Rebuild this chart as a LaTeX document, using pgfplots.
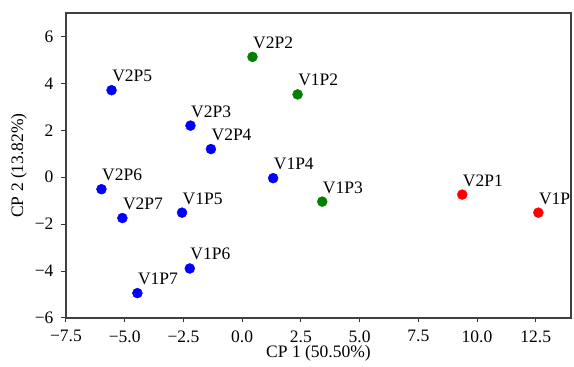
\documentclass[border=0pt]{standalone}
\usepackage{pgfplots}
\pgfplotsset{compat=1.18}
\usepackage{pgfplotstable}
\usepackage{fontspec}
\setmainfont{Liberation Serif}
\definecolor{mblue}{RGB}{0,0,255}
\definecolor{mgreen}{RGB}{0,128,0}
\definecolor{mred}{RGB}{255,0,0}
\pgfplotstableread{
x y label
-5.56 3.71 V2P5
-2.20 2.20 V2P3
-1.33 1.20 V2P4
1.32 -0.04 V1P4
-5.99 -0.51 V2P6
-5.10 -1.74 V2P7
-2.56 -1.51 V1P5
-2.23 -3.89 V1P6
-4.46 -4.94 V1P7
}\blueset
\pgfplotstableread{
x y label
0.44 5.13 V2P2
2.36 3.53 V1P2
3.41 -1.04 V1P3
}\greenset
\pgfplotstableread{
x y label
9.37 -0.74 V2P1
12.61 -1.51 V1P1
}\redset
\begin{document}
\fontsize{17.5}{20}\selectfont
\begin{tikzpicture}
\begin{axis}[
  scale only axis,
  width=505pt, height=305pt,
  at={(0,0)}, anchor=south west,
  xmin=-7.5, xmax=14.0, ymin=-6, ymax=7,
  xtick={-7.5,-5,-2.5,0,2.5,5,7.5,10,12.5},
  xticklabels={−7.5,−5.0,−2.5,0.0,2.5,5.0,7.5,10.0,12.5},
  ytick={-6,-4,-2,0,2,4,6},
  yticklabels={−6,−4,−2,0,2,4,6},
  tick align=outside,
  xtick pos=bottom, ytick pos=left,
  major tick length=4.5pt,
  tick style={black!80, line width=1pt},
  axis line style={black!75, line width=1.3pt},
  ticklabel style={font=\fontsize{17.5}{20}\selectfont},
  xticklabel style={yshift=-2pt},
  yticklabel style={xshift=-2pt},
  label style={font=\fontsize{17.5}{20}\selectfont},
  xlabel={CP 1 (50.50\%)},
  ylabel={CP 2 (13.82\%)},
  xlabel style={at={(axis description cs:0.5,-0.1311)}, anchor=base},
  ylabel style={at={(axis description cs:-0.093,0.5)}, anchor=center},
  clip mode=global,
  clip marker paths=true,
  nodes near coords,
  point meta=explicit symbolic,
  every node near coord/.style={anchor=base west, xshift=0.5pt, yshift=8.5pt, font=\fontsize{17.5}{20}\selectfont, text=black, inner sep=0pt},
]
\addplot[only marks, mark=*, mark size=5pt, mark options={draw=mblue, fill=mblue}] table[x=x, y=y, meta=label]{\blueset};
\addplot[only marks, mark=*, mark size=5pt, mark options={draw=mgreen, fill=mgreen}] table[x=x, y=y, meta=label]{\greenset};
\addplot[only marks, mark=*, mark size=5pt, mark options={draw=mred, fill=mred}] table[x=x, y=y, meta=label]{\redset};
\end{axis}
\pgfresetboundingbox
\path (-66pt,-49pt) rectangle (508pt,318pt);
\end{tikzpicture}
\end{document}
